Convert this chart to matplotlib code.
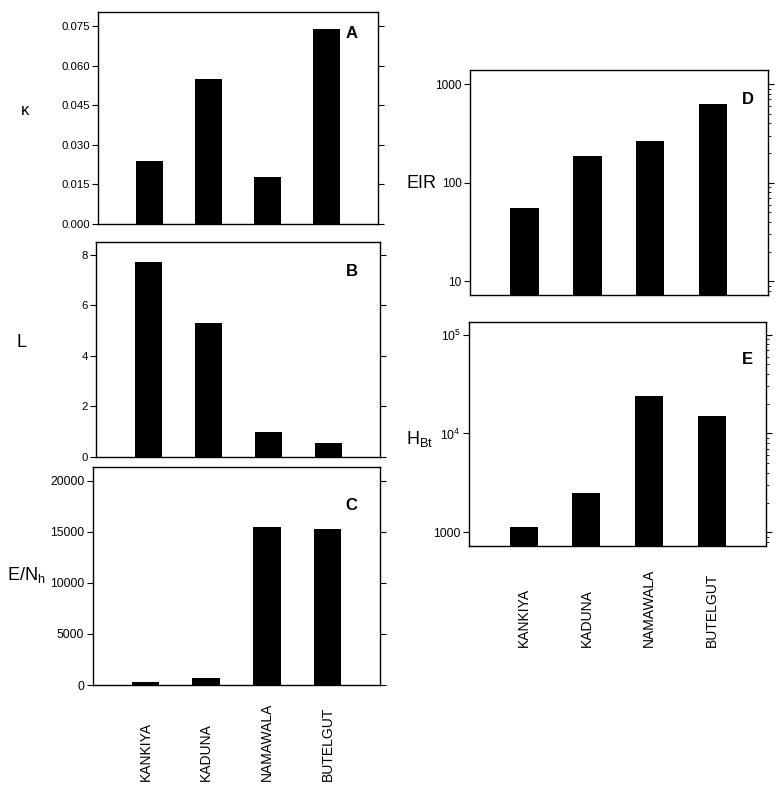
import numpy as np
import matplotlib
matplotlib.use('Agg')
import matplotlib.pyplot as plt

plt.rcParams['font.family'] = ['Liberation Sans', 'DejaVu Sans']
plt.rcParams['mathtext.fontset'] = 'custom'
plt.rcParams['mathtext.rm'] = 'Liberation Sans'
plt.rcParams['mathtext.it'] = 'Liberation Sans:italic'

sites = ['KANKIYA', 'KADUNA', 'NAMAWALA', 'BUTELGUT']
kappa = [0.024, 0.055, 0.018, 0.074]
L_vals = [7.7, 5.3, 0.98, 0.55]
E_Nh = [300, 650, 15450, 15300]
EIR = [55, 186, 265, 627]
H_Bt = [1140, 2480, 23900, 14970]

x = np.arange(len(sites))

fig = plt.figure(figsize=(7.78, 7.92), dpi=100)

# (left, bottom, width, height) in figure fraction
axA = fig.add_axes([0.126, 0.717, 0.360, 0.268])
axB = fig.add_axes([0.124, 0.423, 0.365, 0.272])
axC = fig.add_axes([0.119, 0.135, 0.370, 0.275])
axD = fig.add_axes([0.604, 0.627, 0.383, 0.284])
axE = fig.add_axes([0.603, 0.311, 0.382, 0.283])


def style(ax, log=False, size=8):
    ax.set_xlim(-0.87, 3.87)
    ax.tick_params(axis='x', bottom=False, labelbottom=False)
    ax.tick_params(axis='y', which='major', direction='out', left=True, right=True,
                   labelright=False, length=4, width=0.8, labelsize=size, pad=2)
    if log:
        ax.tick_params(axis='y', which='minor', direction='out', left=False,
                       right=True, length=2.5, width=0.6)
    for s in ax.spines.values():
        s.set_linewidth(1.0)


# A - kappa
axA.bar(x, kappa, width=0.45, color='black')
axA.set_ylim(0, 0.0803)
axA.set_yticks([0.0, 0.015, 0.030, 0.045, 0.060, 0.075])
axA.set_yticklabels(['0.000', '0.015', '0.030', '0.045', '0.060', '0.075'])
style(axA, size=8.2)
axA.set_ylabel('κ', rotation=0, fontsize=12)
axA.yaxis.set_label_coords(-0.26, 0.50)
axA.text(0.907, 0.90, 'A', transform=axA.transAxes, fontsize=12, fontweight='bold',
         ha='center', va='center')

# B - L
axB.bar(x, L_vals, width=0.45, color='black')
axB.set_ylim(0, 8.52)
axB.set_yticks([0, 2, 4, 6, 8])
style(axB, size=8.2)
axB.set_ylabel('L', rotation=0, fontsize=13)
axB.yaxis.set_label_coords(-0.263, 0.49)
axB.text(0.898, 0.86, 'B', transform=axB.transAxes, fontsize=12, fontweight='bold',
         ha='center', va='center')

# C - E/Nh
axC.bar(x, E_Nh, width=0.45, color='black')
axC.set_ylim(0, 21300)
axC.set_yticks([0, 5000, 10000, 15000, 20000])
style(axC, size=8.8)
axC.set_ylabel('$\\mathrm{E/N_h}$', rotation=0, fontsize=13)
axC.yaxis.set_label_coords(-0.232, 0.46)
axC.text(0.90, 0.826, 'C', transform=axC.transAxes, fontsize=12, fontweight='bold',
         ha='center', va='center')

# D - EIR
axD.bar(x, EIR, width=0.45, color='black', bottom=1)
axD.set_yscale('log')
axD.set_ylim(7.2, 1374)
axD.set_yticks([10, 100, 1000])
axD.set_yticklabels(['10', '100', '1000'])
style(axD, log=True, size=8.5)
axD.set_ylabel('EIR', rotation=0, fontsize=13)
axD.yaxis.set_label_coords(-0.161, 0.46)
axD.text(0.934, 0.87, 'D', transform=axD.transAxes, fontsize=12, fontweight='bold',
         ha='center', va='center')

# E - H_Bt
axE.bar(x, H_Bt, width=0.45, color='black', bottom=1)
axE.set_yscale('log')
axE.set_ylim(731, 136000)
axE.set_yticks([1000, 10000, 100000])
axE.set_yticklabels(['1000', '$10^4$', '$10^5$'])
style(axE, log=True, size=8.8)
axE.set_ylabel('$\\mathrm{H_{Bt}}$', rotation=0, fontsize=13)
axE.yaxis.set_label_coords(-0.166, 0.43)
axE.text(0.936, 0.83, 'E', transform=axE.transAxes, fontsize=12, fontweight='bold',
         ha='center', va='center')

# rotated site names, aligned at their start (bottom)
for ax, yoff in [(axC, -0.439), (axE, -0.451)]:
    tr = ax.get_xaxis_transform()
    for xi, name in zip(x, sites):
        ax.text(xi, yoff, name, transform=tr, rotation=90, ha='center', va='bottom',
                fontsize=10)

fig.savefig('out.png', dpi=100)
